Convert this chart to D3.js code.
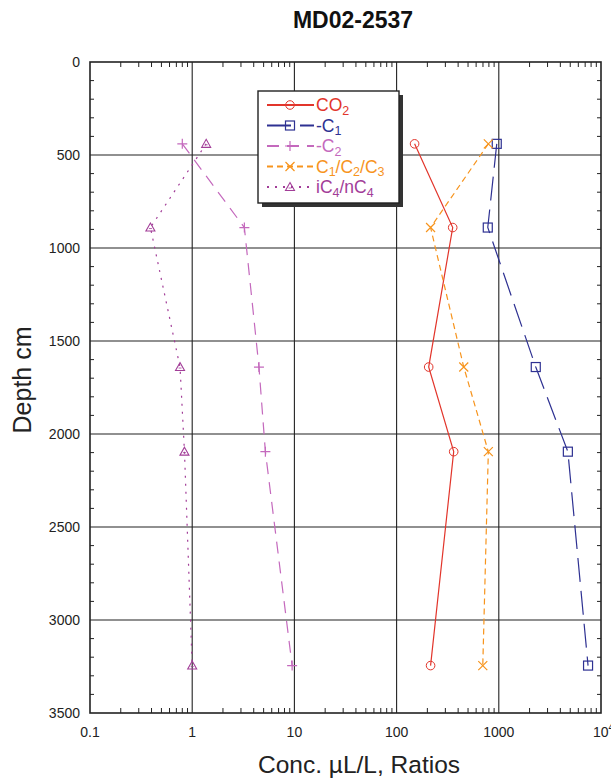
<!DOCTYPE html>
<html>
<head>
<meta charset="utf-8">
<script src="https://cdn.jsdelivr.net/npm/d3@7"></script>
<style>
  body { margin: 0; background: #fff; }
  svg { font-family: "Liberation Sans", Arial, sans-serif; }
</style>
</head>
<body>
<div id="chart"></div>
<script>
// sample depths (cm)
var depths = [440, 890, 1640, 2095, 3245];

// concentrations / ratios per series
var co2 = [150, 354, 206, 362, 215];
var c1 = [955, 780, 2300, 4740, 7470];
var c2 = [0.80, 3.24, 4.5, 5.2, 9.5];
var c1c2c3 = [790, 215, 454, 790, 697];
var ic4nc4 = [1.37, 0.39, 0.76, 0.84, 1.0];

var xTicks = [0.1, 1, 10, 100, 1000, 10000];
var yTicks = [0, 500, 1000, 1500, 2000, 2500, 3000, 3500];

var series = [
  {name: 'co2', values: co2, color: '#e2352b', dash: null, marker: 'circle',
   label: [['CO', ''], ['2', 'sub']]},
  {name: 'c1', values: c1, color: '#2e3192', dash: '24,9', marker: 'square',
   label: [['-C', ''], ['1', 'sub']]},
  {name: 'c2', values: c2, color: '#c469bd', dash: '12,8', marker: 'plus',
   label: [['-C', ''], ['2', 'sub']]},
  {name: 'c1c2c3', values: c1c2c3, color: '#f7941d', dash: '6,4', marker: 'cross',
   label: [['C', ''], ['1', 'sub'], ['/C', ''], ['2', 'sub'], ['/C', ''], ['3', 'sub']]},
  {name: 'ic4nc4', values: ic4nc4, color: '#a23d98', dash: '2,6', marker: 'triangle',
   label: [['iC', ''], ['4', 'sub'], ['/nC', ''], ['4', 'sub']]}
];

var width = 611, height = 781;
var margin = {left: 90, top: 62, right: 10, bottom: 68};

var svg = d3.select('#chart').append('svg')
  .attr('width', width)
  .attr('height', height);

var x = d3.scaleLog().domain([0.1, 10000]).range([margin.left, width - margin.right]);
var y = d3.scaleLinear().domain([0, 3500]).range([margin.top, height - margin.bottom]);

// minor ticks on log axis
var minor = [];
[0.1, 1, 10, 100, 1000].forEach(function(d){
  for (var k = 2; k <= 9; k++) minor.push(d * k);
});
var minorY = d3.range(100, 3500, 100).filter(function(d){ return d % 500 !== 0; });

var g = svg.append('g');

// grid
g.selectAll('.vgrid').data(xTicks.slice(1, -1)).enter().append('line')
  .attr('x1', d => x(d)).attr('x2', d => x(d))
  .attr('y1', y(0)).attr('y2', y(3500))
  .attr('stroke', '#222').attr('stroke-width', 1.1);
g.selectAll('.hgrid').data(yTicks.slice(1, -1)).enter().append('line')
  .attr('x1', x(0.1)).attr('x2', x(10000))
  .attr('y1', d => y(d)).attr('y2', d => y(d))
  .attr('stroke', '#222').attr('stroke-width', 1.1);

// minor ticks (inward)
[y(0), y(3500)].forEach(function(yy, i){
  g.selectAll('.mx' + i).data(minor).enter().append('line')
    .attr('x1', d => x(d)).attr('x2', d => x(d))
    .attr('y1', yy).attr('y2', i === 0 ? yy + 5 : yy - 5)
    .attr('stroke', '#222').attr('stroke-width', 1);
});
[x(0.1), x(10000)].forEach(function(xx, i){
  g.selectAll('.my' + i).data(minorY).enter().append('line')
    .attr('y1', d => y(d)).attr('y2', d => y(d))
    .attr('x1', xx).attr('x2', i === 0 ? xx + 4 : xx - 4)
    .attr('stroke', '#222').attr('stroke-width', 1);
});

// frame
g.append('rect')
  .attr('x', x(0.1)).attr('y', y(0))
  .attr('width', x(10000) - x(0.1)).attr('height', y(3500) - y(0))
  .attr('fill', 'none').attr('stroke', '#222').attr('stroke-width', 1.6);

// tick labels
g.selectAll('.ylab').data(yTicks).enter().append('text')
  .attr('x', x(0.1) - 10).attr('y', d => y(d) + 5)
  .attr('text-anchor', 'end').attr('font-size', 14).attr('fill', '#222')
  .text(d => d);
var xl = g.selectAll('.xlab').data(xTicks).enter().append('text')
  .attr('x', d => x(d)).attr('y', y(3500) + 24)
  .attr('text-anchor', 'middle').attr('font-size', 14).attr('fill', '#222');
xl.each(function(d){
  var t = d3.select(this);
  if (d === 10000) {
    t.attr('text-anchor', 'start').attr('x', x(d) - 8);
    t.append('tspan').text('10');
    t.append('tspan').attr('dy', -6).attr('font-size', 10).text('4');
  } else {
    t.text(d3.format('~g')(d));
  }
});

// axis titles
svg.append('text')
  .attr('x', 353).attr('y', 28)
  .attr('text-anchor', 'middle').attr('font-size', 23).attr('font-weight', 'bold')
  .attr('fill', '#111')
  .text('MD02-2537');
svg.append('text')
  .attr('transform', 'translate(31,380) rotate(-90)')
  .attr('text-anchor', 'middle').attr('font-size', 25).attr('fill', '#222')
  .text('Depth cm');
svg.append('text')
  .attr('x', 359).attr('y', 773)
  .attr('text-anchor', 'middle').attr('font-size', 24.5).attr('fill', '#222')
  .text('Conc. \u00b5L/L, Ratios');

function drawMarker(sel, type, color, cx, cy) {
  if (type === 'circle') {
    sel.append('circle').attr('cx', cx).attr('cy', cy).attr('r', 4.3)
      .attr('fill', 'none').attr('stroke', color).attr('stroke-width', 1);
  } else if (type === 'square') {
    sel.append('rect').attr('x', cx - 4.5).attr('y', cy - 4.5).attr('width', 9).attr('height', 9)
      .attr('fill', 'none').attr('stroke', color).attr('stroke-width', 1.2);
  } else if (type === 'plus') {
    sel.append('path').attr('d', 'M' + (cx - 5) + ',' + cy + 'H' + (cx + 5) + 'M' + cx + ',' + (cy - 5) + 'V' + (cy + 5))
      .attr('stroke', color).attr('stroke-width', 1.2);
  } else if (type === 'cross') {
    sel.append('path').attr('d', 'M' + (cx - 4.5) + ',' + (cy - 4.5) + 'L' + (cx + 4.5) + ',' + (cy + 4.5) +
      'M' + (cx - 4.5) + ',' + (cy + 4.5) + 'L' + (cx + 4.5) + ',' + (cy - 4.5))
      .attr('stroke', color).attr('stroke-width', 1.2);
  } else if (type === 'triangle') {
    sel.append('path').attr('d', 'M' + cx + ',' + (cy - 4.5) + 'L' + (cx + 4.5) + ',' + (cy + 3.5) + 'L' + (cx - 4.5) + ',' + (cy + 3.5) + 'Z')
      .attr('fill', 'none').attr('stroke', color).attr('stroke-width', 1.1);
    sel.append('line').attr('x1', cx - 1.5).attr('x2', cx + 1.5).attr('y1', cy + 1).attr('y2', cy + 1)
      .attr('stroke', color).attr('stroke-width', 0.8);
  }
}

var line = d3.line().x(d => x(d[0])).y(d => y(d[1]));

series.forEach(function(s){
  var pts = s.values.map((v, i) => [v, depths[i]]);
  var sg = g.append('g').attr('class', 'series ' + s.name);
  sg.append('path').datum(pts)
    .attr('d', line)
    .attr('fill', 'none').attr('stroke', s.color).attr('stroke-width', 1.2)
    .attr('stroke-dasharray', s.dash);
  pts.forEach(function(p){ drawMarker(sg, s.marker, s.color, x(p[0]), y(p[1])); });
});

// legend
var lg = svg.append('g').attr('transform', 'translate(258,91)');
lg.append('rect').attr('x', 4).attr('y', 4).attr('width', 141).attr('height', 112).attr('fill', '#333');
lg.append('rect').attr('x', 0).attr('y', 0).attr('width', 141).attr('height', 112)
  .attr('fill', '#fff').attr('stroke', '#222').attr('stroke-width', 1.4);
series.forEach(function(s, i){
  var ly = 14 + i * 20.5;
  var row = lg.append('g');
  row.append('line').attr('x1', 9).attr('x2', 56).attr('y1', ly).attr('y2', ly)
    .attr('stroke', s.color).attr('stroke-width', 2).attr('stroke-dasharray', s.dash);
  drawMarker(row, s.marker, s.color, 32, ly);
  var t = row.append('text').attr('x', 58).attr('y', ly + 6)
    .attr('font-size', 17.5).attr('fill', s.color);
  s.label.forEach(function(part, k){
    var ts = t.append('tspan').text(part[0]);
    if (part[1] === 'sub') ts.attr('dy', 3.5).attr('font-size', 12.5);
    else if (k > 0) ts.attr('dy', -3.5);
  });
});
</script>
</body>
</html>
